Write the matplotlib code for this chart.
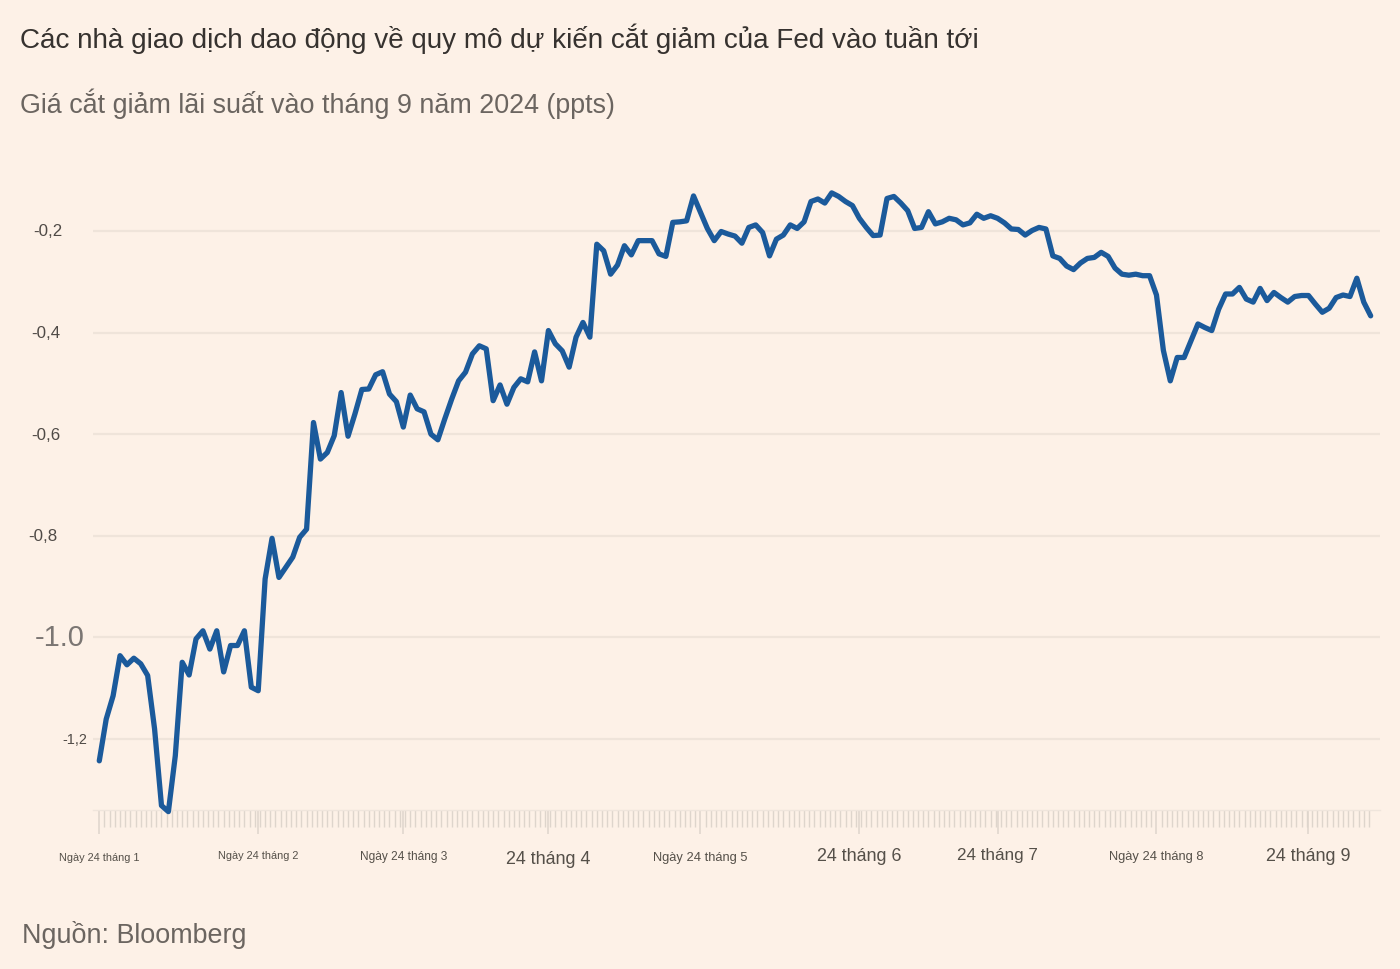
import matplotlib
matplotlib.use("Agg")
import numpy as np
import matplotlib.pyplot as plt
import matplotlib.transforms as mtransforms
from matplotlib.ticker import FixedLocator, NullFormatter

plt.rcParams['font.family'] = ['Liberation Sans', 'DejaVu Sans']

# ---------------- data ----------------
title = "Các nhà giao dịch dao động về quy mô dự kiến cắt giảm của Fed vào tuần tới"
subtitle = "Giá cắt giảm lãi suất vào tháng 9 năm 2024 (ppts)"
source = "Nguồn: Bloomberg"

# Market-implied size of the September 2024 cut (ppts), one value per trading session
values = [
    -1.243, -1.161, -1.115, -1.036, -1.054, -1.041, -1.052, -1.075, -1.180, -1.331,
    -1.343, -1.233, -1.049, -1.074, -1.003, -0.987, -1.023, -0.987, -1.068, -1.016,
    -1.016, -0.987, -1.098, -1.105, -0.885, -0.805, -0.882, -0.862, -0.842, -0.803,
    -0.787, -0.577, -0.649, -0.636, -0.603, -0.518, -0.604, -0.560, -0.512, -0.511,
    -0.483, -0.477, -0.521, -0.536, -0.586, -0.523, -0.550, -0.556, -0.600, -0.611,
    -0.570, -0.531, -0.495, -0.478, -0.442, -0.426, -0.432, -0.534, -0.503, -0.541,
    -0.508, -0.491, -0.497, -0.438, -0.495, -0.396, -0.422, -0.436, -0.468, -0.409,
    -0.380, -0.409, -0.226, -0.239, -0.285, -0.267, -0.229, -0.247, -0.219, -0.219,
    -0.219, -0.245, -0.250, -0.183, -0.182, -0.180, -0.131, -0.163, -0.195, -0.219,
    -0.201, -0.206, -0.210, -0.224, -0.193, -0.188, -0.203, -0.249, -0.216, -0.208,
    -0.188, -0.195, -0.182, -0.142, -0.137, -0.145, -0.125, -0.132, -0.142, -0.150,
    -0.175, -0.193, -0.209, -0.208, -0.136, -0.132, -0.145, -0.160, -0.195, -0.193,
    -0.162, -0.186, -0.182, -0.175, -0.178, -0.188, -0.184, -0.167, -0.175, -0.170,
    -0.175, -0.184, -0.196, -0.197, -0.208, -0.199, -0.193, -0.196, -0.249, -0.254,
    -0.269, -0.276, -0.263, -0.254, -0.252, -0.242, -0.250, -0.273, -0.285, -0.287,
    -0.285, -0.288, -0.288, -0.326, -0.435, -0.495, -0.449, -0.449, -0.416, -0.383,
    -0.390, -0.396, -0.354, -0.324, -0.324, -0.311, -0.334, -0.340, -0.313, -0.337,
    -0.321, -0.331, -0.340, -0.329, -0.327, -0.327, -0.344, -0.360, -0.352, -0.331,
    -0.326, -0.329, -0.293, -0.340, -0.367,
]

# x-axis labels (session index of each labelled date)
xtick_idx = [0, 23, 44, 65, 87, 110, 130, 153, 175]
xtick_labels = ["Ngày 24 tháng 1", "Ngày 24 tháng 2", "Ngày 24 tháng 3", "24 tháng 4",
                "Ngày 24 tháng 5", "24 tháng 6", "24 tháng 7", "Ngày 24 tháng 8", "24 tháng 9"]

# y-axis labels
ytick_vals = [-0.2, -0.4, -0.6, -0.8, -1.0, -1.2]
ytick_labels = ["-0,2", "-0,4", "-0,6", "-0,8", "-1.0", "-1,2"]

# ---------------- style ----------------
W, H = 1400, 970
BG = "#fdf1e7"
LINE = "#1b5a9b"
GRID = "#efe4da"
TICK = "#ded5cc"

xtick_sizes = [7.9, 7.9, 8.6, 12.9, 9.3, 12.9, 12.3, 9.3, 12.9]
xtick_ypx = [858, 856, 857, 860, 858, 857, 856, 857, 857]
ytick_sizes = [12.2, 12.2, 12.2, 12.2, 21, 10.4]
ytick_colors = ["#4f4a46"] * 4 + ["#7b7673", "#4f4a46"]
ytick_right_px = [63, 60, 60, 57, 85, 87]

fig = plt.figure(figsize=(W / 100, H / 100), dpi=100, facecolor=BG)
ax = fig.add_axes([93 / W, 1 - 811 / H, (1380 - 93) / W, (811 - 175) / H])
ax.set_facecolor(BG)

x = list(range(len(values)))
ax.plot(x, values, color=LINE, lw=3.8, solid_joinstyle='round', solid_capstyle='round',
        zorder=3, clip_on=False)

ax.set_xlim(-0.91, 185.35)
ax.set_ylim(-1.3398, -0.0878)

# grid
ax.set_yticks(ytick_vals)
ax.yaxis.grid(True, color=GRID, lw=1.6)
ax.tick_params(axis='y', length=0, labelleft=False)
ax.set_axisbelow(True)

for s in ['left', 'right', 'top', 'bottom']:
    ax.spines[s].set_visible(False)

# x ticks
ax.xaxis.set_major_locator(FixedLocator(xtick_idx))
ax.xaxis.set_minor_locator(FixedLocator(np.arange(0, len(values) - 0.5, 0.75)))
ax.xaxis.set_major_formatter(NullFormatter())
ax.tick_params(axis='x', which='major', length=17, width=1.1, color=TICK)
ax.tick_params(axis='x', which='minor', length=12, width=1.0, color=TICK)
ax.axhline(-1.3398, xmin=0.0, xmax=1.0, color="#efe5dc", lw=1.0, clip_on=False)

blend_x = mtransforms.blended_transform_factory(ax.transData, fig.transFigure)
for xi, lab, fs, ypx in zip(xtick_idx, xtick_labels, xtick_sizes, xtick_ypx):
    fig.text(xi, 1 - ypx / H, lab, transform=blend_x, ha='center', va='center',
             fontsize=fs, color="#555049")

blend_y = mtransforms.blended_transform_factory(fig.transFigure, ax.transData)
for v, lab, fs, col, rpx in zip(ytick_vals, ytick_labels, ytick_sizes, ytick_colors, ytick_right_px):
    fig.text(rpx / W, v, lab, transform=blend_y, ha='right', va='center',
             fontsize=fs, color=col)

fig.text(20 / W, 1 - 39 / H, title, ha='left', va='center', fontsize=20.1, color="#36322f")
fig.text(20 / W, 1 - 104 / H, subtitle, ha='left', va='center', fontsize=19.4, color="#6b6560")
fig.text(22 / W, 1 - 935 / H, source, ha='left', va='center', fontsize=19.4, color="#6b6560")

fig.savefig("out.png", dpi=100, facecolor=BG)
